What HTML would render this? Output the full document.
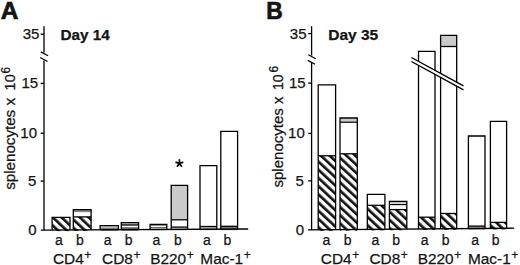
<!DOCTYPE html>
<html><head><meta charset="utf-8"><style>
html,body{margin:0;padding:0;background:#fff;}
svg{display:block;}
text{font-family:"Liberation Sans", sans-serif;fill:#141414;stroke:#141414;stroke-width:0.25px;}
</style></head><body>
<svg width="520" height="265" viewBox="0 0 520 265">
<defs><pattern id="h1" patternUnits="userSpaceOnUse" width="6.0" height="6.0" patternTransform="translate(0,169.99) rotate(-47)"><rect width="6.0" height="6.0" fill="#fff"/><rect width="2.65" height="6.0" fill="#111"/></pattern><pattern id="h2" patternUnits="userSpaceOnUse" width="6.0" height="6.0" patternTransform="translate(0,152.94) rotate(-47)"><rect width="6.0" height="6.0" fill="#fff"/><rect width="2.65" height="6.0" fill="#111"/></pattern><pattern id="h3" patternUnits="userSpaceOnUse" width="6.0" height="6.0" patternTransform="translate(0,-84.33) rotate(-47)"><rect width="6.0" height="6.0" fill="#fff"/><rect width="2.65" height="6.0" fill="#111"/></pattern><pattern id="h4" patternUnits="userSpaceOnUse" width="6.0" height="6.0" patternTransform="translate(0,-108.28) rotate(-47)"><rect width="6.0" height="6.0" fill="#fff"/><rect width="2.65" height="6.0" fill="#111"/></pattern><pattern id="h5" patternUnits="userSpaceOnUse" width="6.0" height="6.0" patternTransform="translate(0,-123.93) rotate(-47)"><rect width="6.0" height="6.0" fill="#fff"/><rect width="2.65" height="6.0" fill="#111"/></pattern><pattern id="h6" patternUnits="userSpaceOnUse" width="6.0" height="6.0" patternTransform="translate(0,-149.74) rotate(-47)"><rect width="6.0" height="6.0" fill="#fff"/><rect width="2.65" height="6.0" fill="#111"/></pattern><pattern id="h7" patternUnits="userSpaceOnUse" width="6.0" height="6.0" patternTransform="translate(0,-165.29) rotate(-47)"><rect width="6.0" height="6.0" fill="#fff"/><rect width="2.65" height="6.0" fill="#111"/></pattern><pattern id="h8" patternUnits="userSpaceOnUse" width="6.0" height="6.0" patternTransform="translate(0,-193.00) rotate(-47)"><rect width="6.0" height="6.0" fill="#fff"/><rect width="2.65" height="6.0" fill="#111"/></pattern><pattern id="h9" patternUnits="userSpaceOnUse" width="6.0" height="6.0" patternTransform="translate(0,-238.43) rotate(-47)"><rect width="6.0" height="6.0" fill="#fff"/><rect width="2.65" height="6.0" fill="#111"/></pattern></defs>
<rect width="520" height="265" fill="#fff"/>
<line x1="44" y1="26.2" x2="44" y2="52.6" stroke="#000" stroke-width="1.3"/>
<line x1="44" y1="60.6" x2="44" y2="230.1814850530376" stroke="#000" stroke-width="1.3"/>
<line x1="40.8" y1="51.9" x2="48.1" y2="55.8" stroke="#000" stroke-width="1.3"/>
<line x1="40.2" y1="57.5" x2="47.5" y2="61.5" stroke="#000" stroke-width="1.3"/>
<line x1="40.6" x2="44" y1="34.2" y2="34.2" stroke="#000" stroke-width="1.3"/>
<line x1="40.6" x2="44" y1="83.4" y2="83.4" stroke="#000" stroke-width="1.3"/>
<line x1="40.6" x2="44" y1="133.2" y2="133.2" stroke="#000" stroke-width="1.3"/>
<line x1="40.6" x2="44" y1="181.1" y2="181.1" stroke="#000" stroke-width="1.3"/>
<rect x="52.1" y="217.4" width="17.90" height="0.00" fill="#fff"/>
<rect x="52.1" y="217.4" width="17.90" height="13.73" fill="url(#h1)"/>
<path d="M52.1 230.13V217.4H70.0V230.03" fill="none" stroke="#000" stroke-width="1.3"/>
<rect x="73.3" y="209.6" width="17.80" height="0.00" fill="#fff"/>
<rect x="73.3" y="209.6" width="17.80" height="2.80" fill="#888"/>
<rect x="73.3" y="212.4" width="17.80" height="4.50" fill="#fff"/>
<rect x="73.3" y="216.9" width="17.80" height="14.11" fill="url(#h2)"/>
<line x1="73.3" x2="91.1" y1="216.9" y2="216.9" stroke="#000" stroke-width="1.3"/>
<path d="M73.3 230.01V209.6H91.1V229.91" fill="none" stroke="#000" stroke-width="1.3"/>
<rect x="100.1" y="225.6" width="18.30" height="0.00" fill="#fff"/>
<rect x="100.1" y="225.6" width="18.30" height="0.80" fill="#999"/>
<rect x="100.1" y="226.4" width="18.30" height="1.60" fill="#bbb"/>
<rect x="100.1" y="228.0" width="18.30" height="2.86" fill="#777"/>
<path d="M100.1 229.86V225.6H118.4V229.75" fill="none" stroke="#000" stroke-width="1.3"/>
<rect x="121.3" y="222.6" width="17.30" height="0.00" fill="#fff"/>
<rect x="121.3" y="222.6" width="17.30" height="2.40" fill="#c4c4c4"/>
<rect x="121.3" y="225.0" width="17.30" height="2.20" fill="#fff"/>
<rect x="121.3" y="227.2" width="17.30" height="3.53" fill="#666"/>
<line x1="121.3" x2="138.6" y1="225.0" y2="225.0" stroke="#000" stroke-width="1.3"/>
<path d="M121.3 229.73V222.6H138.6V229.63" fill="none" stroke="#000" stroke-width="1.3"/>
<rect x="150.1" y="224.3" width="16.70" height="0.00" fill="#fff"/>
<rect x="150.1" y="224.3" width="16.70" height="1.70" fill="#888"/>
<rect x="150.1" y="226.0" width="16.70" height="1.00" fill="#fff"/>
<rect x="150.1" y="227.0" width="16.70" height="1.30" fill="#666"/>
<rect x="150.1" y="228.3" width="16.70" height="2.27" fill="#ccc"/>
<path d="M150.1 229.57V224.3H166.8V229.47" fill="none" stroke="#000" stroke-width="1.3"/>
<rect x="171.2" y="185.4" width="16.40" height="0.00" fill="#fff"/>
<rect x="171.2" y="185.4" width="16.40" height="34.40" fill="#cacaca"/>
<rect x="171.2" y="219.8" width="16.40" height="7.80" fill="#fff"/>
<rect x="171.2" y="227.6" width="16.40" height="2.85" fill="#ccc"/>
<line x1="171.2" x2="187.6" y1="219.8" y2="219.8" stroke="#000" stroke-width="1.3"/>
<line x1="171.2" x2="187.6" y1="227.1" y2="227.1" stroke="#000" stroke-width="1.3"/>
<path d="M171.2 229.45V185.4H187.6V229.35" fill="none" stroke="#000" stroke-width="1.3"/>
<rect x="200.0" y="165.6" width="16.80" height="61.10" fill="#fff"/>
<rect x="200.0" y="226.7" width="16.80" height="3.58" fill="#bbb"/>
<line x1="200.0" x2="216.8" y1="226.5" y2="226.5" stroke="#000" stroke-width="1.3"/>
<path d="M200.0 229.28V165.6H216.8V229.18" fill="none" stroke="#000" stroke-width="1.3"/>
<rect x="220.8" y="131.4" width="16.80" height="94.90" fill="#fff"/>
<rect x="220.8" y="226.3" width="16.80" height="3.86" fill="#777"/>
<line x1="220.8" x2="237.6" y1="226.3" y2="226.3" stroke="#000" stroke-width="1.3"/>
<path d="M220.8 229.16V131.4H237.6V229.06" fill="none" stroke="#000" stroke-width="1.3"/>
<line x1="40.8" y1="230.2" x2="248.2" y2="229.0" stroke="#000" stroke-width="1.3"/>
<line x1="311.6" y1="26.1" x2="311.6" y2="55.6" stroke="#000" stroke-width="1.3"/>
<line x1="311.6" y1="62.8" x2="311.6" y2="229.87032007759458" stroke="#000" stroke-width="1.3"/>
<line x1="308.3" y1="54.7" x2="315.7" y2="58.7" stroke="#000" stroke-width="1.3"/>
<line x1="307.8" y1="60.4" x2="315.1" y2="64.3" stroke="#000" stroke-width="1.3"/>
<line x1="308.2" x2="311.6" y1="33.6" y2="33.6" stroke="#000" stroke-width="1.3"/>
<line x1="308.2" x2="311.6" y1="83.1" y2="83.1" stroke="#000" stroke-width="1.3"/>
<line x1="308.2" x2="311.6" y1="133.4" y2="133.4" stroke="#000" stroke-width="1.3"/>
<line x1="308.2" x2="311.6" y1="180.9" y2="180.9" stroke="#000" stroke-width="1.3"/>
<rect x="318.2" y="84.9" width="17.40" height="70.90" fill="#fff"/>
<rect x="318.2" y="155.8" width="17.40" height="75.02" fill="url(#h3)"/>
<line x1="318.2" x2="335.6" y1="155.8" y2="155.8" stroke="#000" stroke-width="1.3"/>
<path d="M318.2 229.82V84.9H335.6V229.67" fill="none" stroke="#000" stroke-width="1.3"/>
<rect x="340.0" y="118.0" width="17.30" height="0.00" fill="#fff"/>
<rect x="340.0" y="118" width="17.30" height="3.60" fill="#cacaca"/>
<rect x="340.0" y="121.6" width="17.30" height="32.20" fill="#fff"/>
<rect x="340.0" y="153.8" width="17.30" height="76.84" fill="url(#h4)"/>
<line x1="340.0" x2="357.3" y1="122.2" y2="122.2" stroke="#000" stroke-width="1.3"/>
<line x1="340.0" x2="357.3" y1="153.8" y2="153.8" stroke="#000" stroke-width="1.3"/>
<path d="M340.0 229.64V118.0H357.3V229.49" fill="none" stroke="#000" stroke-width="1.3"/>
<rect x="367.3" y="194.3" width="17.60" height="11.00" fill="#fff"/>
<rect x="367.3" y="205.3" width="17.60" height="25.11" fill="url(#h5)"/>
<line x1="367.3" x2="384.9" y1="205.3" y2="205.3" stroke="#000" stroke-width="1.3"/>
<path d="M367.3 229.41V194.3H384.9V229.27" fill="none" stroke="#000" stroke-width="1.3"/>
<rect x="389.4" y="201.5" width="17.40" height="0.00" fill="#fff"/>
<rect x="389.4" y="201.5" width="17.40" height="8.10" fill="#fff"/>
<rect x="389.4" y="209.6" width="17.40" height="20.63" fill="url(#h6)"/>
<line x1="389.4" x2="406.8" y1="204.5" y2="204.5" stroke="#000" stroke-width="1.3"/>
<line x1="389.4" x2="406.8" y1="209.6" y2="209.6" stroke="#000" stroke-width="1.3"/>
<path d="M389.4 229.23V201.5H406.8V229.09" fill="none" stroke="#000" stroke-width="1.3"/>
<rect x="418.5" y="51.4" width="16.50" height="165.80" fill="#fff"/>
<rect x="418.5" y="217.2" width="16.50" height="12.79" fill="url(#h7)"/>
<line x1="418.5" x2="435.0" y1="217.2" y2="217.2" stroke="#000" stroke-width="1.3"/>
<path d="M418.5 228.99V51.4H435.0V228.85" fill="none" stroke="#000" stroke-width="1.3"/>
<rect x="440.6" y="35.4" width="16.10" height="0.00" fill="#fff"/>
<rect x="440.6" y="35.4" width="16.10" height="11.10" fill="#cacaca"/>
<rect x="440.6" y="46.5" width="16.10" height="167.00" fill="#fff"/>
<rect x="440.6" y="213.5" width="16.10" height="16.31" fill="url(#h8)"/>
<line x1="440.6" x2="456.7" y1="46.5" y2="46.5" stroke="#000" stroke-width="1.3"/>
<line x1="440.6" x2="456.7" y1="213.5" y2="213.5" stroke="#000" stroke-width="1.3"/>
<path d="M440.6 228.81V35.4H456.7V228.67" fill="none" stroke="#000" stroke-width="1.3"/>
<rect x="468.4" y="136.0" width="16.60" height="90.20" fill="#fff"/>
<rect x="468.4" y="226.2" width="16.60" height="3.38" fill="#999"/>
<line x1="468.4" x2="485.0" y1="226.1" y2="226.1" stroke="#000" stroke-width="1.3"/>
<path d="M468.4 228.58V136.0H485.0V228.44" fill="none" stroke="#000" stroke-width="1.3"/>
<rect x="490.4" y="121.3" width="16.20" height="101.10" fill="#fff"/>
<rect x="490.4" y="222.4" width="16.20" height="7.00" fill="url(#h9)"/>
<line x1="490.4" x2="506.6" y1="222.4" y2="222.4" stroke="#000" stroke-width="1.3"/>
<path d="M490.4 228.40V121.3H506.6V228.26" fill="none" stroke="#000" stroke-width="1.3"/>
<line x1="308.0" y1="229.9" x2="514.2" y2="228.2" stroke="#000" stroke-width="1.3"/>
<line x1="411.4" y1="59.5" x2="463.5" y2="87.85" stroke="#fff" stroke-width="3.2"/>
<line x1="411.4" y1="57.5" x2="463.5" y2="85.8" stroke="#000" stroke-width="1.4"/>
<line x1="411.4" y1="61.5" x2="463.5" y2="89.9" stroke="#000" stroke-width="1.4"/>
<path d="M179.40 163.40L179.40 159.30 M179.40 163.40L183.30 162.13 M179.40 163.40L181.81 166.72 M179.40 163.40L176.99 166.72 M179.40 163.40L175.50 162.13" stroke="#000" stroke-width="1.7" fill="none"/>
<text x="0.69" y="19.3" font-size="24.5" font-weight="bold" style="stroke-width:0.7px" textLength="17.65" lengthAdjust="spacingAndGlyphs">A</text>
<text x="266.28" y="19.3" font-size="24.5" font-weight="bold" style="stroke-width:0.7px" textLength="16.46" lengthAdjust="spacingAndGlyphs">B</text>
<text x="60.58" y="39.6" font-size="15" font-weight="bold" textLength="49.20" lengthAdjust="spacingAndGlyphs">Day 14</text>
<text x="328.26" y="39.6" font-size="15" font-weight="bold" textLength="49.97" lengthAdjust="spacingAndGlyphs">Day 35</text>
<text x="39.33" y="38.7" font-size="15" text-anchor="end">35</text>
<text x="38.23" y="87.9" font-size="15" text-anchor="end">15</text>
<text x="36.99" y="137.9" font-size="15" text-anchor="end">10</text>
<text x="36.33" y="186.3" font-size="15" text-anchor="end">5</text>
<text x="36.69" y="235.4" font-size="15" text-anchor="end">0</text>
<text x="306.53" y="39.0" font-size="15" text-anchor="end">35</text>
<text x="305.73" y="88.3" font-size="15" text-anchor="end">15</text>
<text x="304.79" y="138.3" font-size="15" text-anchor="end">10</text>
<text x="303.73" y="186.3" font-size="15" text-anchor="end">5</text>
<text x="303.99" y="235.4" font-size="15" text-anchor="end">0</text>
<text transform="rotate(-90)" x="-189.82" y="14.6" font-size="14" textLength="91.78" lengthAdjust="spacingAndGlyphs">splenocytes x</text>
<text transform="rotate(-90)" x="-90.40" y="14.6" font-size="14.5" textLength="16.06" lengthAdjust="spacingAndGlyphs">10</text>
<text transform="rotate(-90)" x="-73.49" y="9.8" font-size="12.5" textLength="6.51" lengthAdjust="spacingAndGlyphs">6</text>
<text transform="rotate(-90)" x="-187.52" y="282.7" font-size="14" textLength="90.98" lengthAdjust="spacingAndGlyphs">splenocytes x</text>
<text transform="rotate(-90)" x="-90.06" y="282.7" font-size="14.5" textLength="15.51" lengthAdjust="spacingAndGlyphs">10</text>
<text transform="rotate(-90)" x="-72.41" y="277.9" font-size="12.5" textLength="6.63" lengthAdjust="spacingAndGlyphs">6</text>
<text x="58.95" y="244.8" font-size="14" text-anchor="middle">a</text>
<text x="79.99" y="244.8" font-size="14" text-anchor="middle">b</text>
<text x="107.70" y="244.8" font-size="14" text-anchor="middle">a</text>
<text x="128.54" y="244.8" font-size="14" text-anchor="middle">b</text>
<text x="156.45" y="244.8" font-size="14" text-anchor="middle">a</text>
<text x="177.94" y="244.8" font-size="14" text-anchor="middle">b</text>
<text x="207.00" y="244.8" font-size="14" text-anchor="middle">a</text>
<text x="227.49" y="244.8" font-size="14" text-anchor="middle">b</text>
<text x="326.45" y="244.8" font-size="14" text-anchor="middle">a</text>
<text x="347.54" y="244.8" font-size="14" text-anchor="middle">b</text>
<text x="375.30" y="244.8" font-size="14" text-anchor="middle">a</text>
<text x="396.09" y="244.8" font-size="14" text-anchor="middle">b</text>
<text x="424.70" y="244.8" font-size="14" text-anchor="middle">a</text>
<text x="445.64" y="244.8" font-size="14" text-anchor="middle">b</text>
<text x="475.05" y="244.8" font-size="14" text-anchor="middle">a</text>
<text x="495.59" y="244.8" font-size="14" text-anchor="middle">b</text>
<text x="52.92" y="263.8" font-size="15.4">CD4<tspan font-size="12" dx="0.6" dy="-4.7">+</tspan></text>
<text x="102.02" y="263.8" font-size="15.4">CD8<tspan font-size="12" dx="0.6" dy="-4.7">+</tspan></text>
<text x="150.14" y="263.8" font-size="15.4">B220<tspan font-size="12" dx="0.6" dy="-4.7">+</tspan></text>
<text x="200.34" y="263.8" font-size="15.4">Mac-1<tspan font-size="12" dx="0.6" dy="-4.7">+</tspan></text>
<text x="320.82" y="263.8" font-size="15.4">CD4<tspan font-size="12" dx="0.6" dy="-4.7">+</tspan></text>
<text x="369.42" y="263.8" font-size="15.4">CD8<tspan font-size="12" dx="0.6" dy="-4.7">+</tspan></text>
<text x="417.64" y="263.8" font-size="15.4">B220<tspan font-size="12" dx="0.6" dy="-4.7">+</tspan></text>
<text x="467.94" y="263.8" font-size="15.4">Mac-1<tspan font-size="12" dx="0.6" dy="-4.7">+</tspan></text>
</svg>
</body></html>
